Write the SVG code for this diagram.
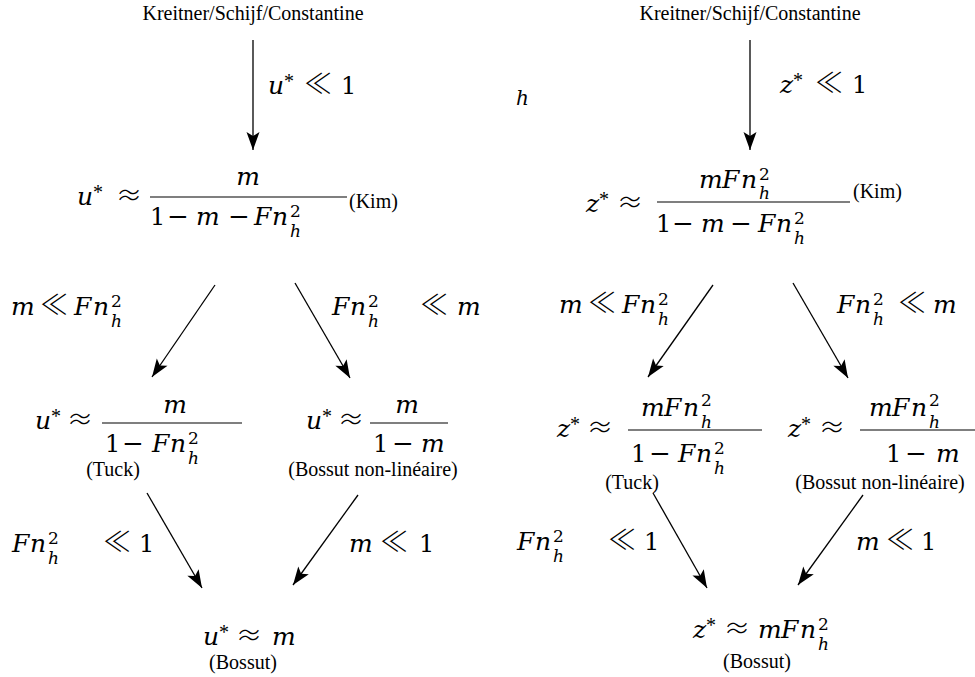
<svg xmlns="http://www.w3.org/2000/svg" width="975" height="677" viewBox="0 0 975 677">
<style>
.t{font-family:"Liberation Serif","Times New Roman",serif;font-size:20px;fill:#000}
.v{font-family:"DejaVu Serif",serif;font-style:italic;font-size:25px;fill:#000}
.d{font-family:"DejaVu Serif",serif;font-size:24px;fill:#000}
.o{font-family:"DejaVu Serif",serif;font-size:26px;fill:#000}
.ap{font-family:"Noto Sans CJK JP","DejaVu Serif",sans-serif;font-weight:300;font-size:26px;fill:#000}
.ll{font-family:"Noto Sans CJK JP","DejaVu Serif",sans-serif;font-weight:300;font-size:28px;fill:#000}
.st{font-family:"Liberation Serif","Times New Roman",serif;font-size:20px;fill:#000}
.s{font-size:17px}
.bar{stroke:#000;stroke-width:1.2}
.edge{stroke:#000;stroke-width:1.3;fill:none;marker-end:url(#ah)}
</style>
<defs>
<marker id="ah" markerUnits="userSpaceOnUse" viewBox="-19 -7 20 14" refX="0" refY="0" markerWidth="20" markerHeight="14" orient="auto">
<path d="M0,0 L-18,-6.5 L-14,0 L-18,6.5 Z" fill="#000"/>
</marker>
</defs>
<rect width="975" height="677" fill="#fff"/>

<g id="src-u"><text class="t" x="253" y="20" text-anchor="middle">Kreitner/Schijf/Constantine</text></g>
<g id="src-z"><text class="t" x="750" y="20" text-anchor="middle">Kreitner/Schijf/Constantine</text></g>
<g id="h-label"><text class="v" style="font-size:20px" x="516" y="105">h</text></g>

<g id="kim-u">
<text class="v" x="77" y="205">u</text><text class="st" x="93" y="199">*</text><text class="ap" x="116" y="205">≈</text>
<text class="v" x="248" y="185" text-anchor="middle">m</text>
<line class="bar" x1="150" y1="197" x2="347" y2="197"/>
<text class="d" x="150" y="225">1</text><text class="o" x="167" y="225">−</text><text class="v" x="196" y="225">m</text><text class="o" x="228" y="225">−</text><text class="v" x="254" y="225">F</text><text class="v" x="272" y="225">n</text><text class="d s" x="290" y="217">2</text><text class="v s" x="290" y="237">h</text>
<text class="t" x="349" y="208">(Kim)</text>
</g>

<g id="kim-z">
<text class="v" x="586" y="212">z</text><text class="st" x="599" y="206">*</text><text class="ap" x="617" y="212">≈</text>
<text class="v" x="699" y="188">m</text><text class="v" x="722" y="188">F</text><text class="v" x="741" y="188">n</text><text class="d s" x="759" y="180">2</text><text class="v s" x="759" y="199">h</text>
<line class="bar" x1="657" y1="202" x2="850" y2="202"/>
<text class="d" x="656" y="232">1</text><text class="o" x="672" y="232">−</text><text class="v" x="701" y="232">m</text><text class="o" x="730" y="232">−</text><text class="v" x="758" y="232">F</text><text class="v" x="776" y="232">n</text><text class="d s" x="794" y="224">2</text><text class="v s" x="794" y="244">h</text>
<text class="t" x="853" y="198">(Kim)</text>
</g>

<g id="tuck-u">
<text class="v" x="35" y="429">u</text><text class="st" x="51" y="423">*</text><text class="ap" x="67" y="429">≈</text>
<text class="v" x="175" y="413" text-anchor="middle">m</text>
<line class="bar" x1="102" y1="423" x2="242" y2="423"/>
<text class="d" x="105" y="452">1</text><text class="o" x="122" y="452">−</text><text class="v" x="152" y="452">F</text><text class="v" x="170" y="452">n</text><text class="d s" x="188" y="444">2</text><text class="v s" x="188" y="464">h</text>
<text class="t" x="113" y="476" text-anchor="middle">(Tuck)</text>
</g>

<g id="bossut-nl-u">
<text class="v" x="306" y="429">u</text><text class="st" x="322" y="423">*</text><text class="ap" x="338" y="429">≈</text>
<text class="v" x="407" y="413" text-anchor="middle">m</text>
<line class="bar" x1="370" y1="423" x2="448" y2="423"/>
<text class="d" x="373" y="452">1</text><text class="o" x="392" y="452">−</text><text class="v" x="421" y="452">m</text>
<text class="t" x="373" y="476" text-anchor="middle">(Bossut non-linéaire)</text>
</g>

<g id="tuck-z">
<text class="v" x="557" y="437">z</text><text class="st" x="570" y="431">*</text><text class="ap" x="587" y="437">≈</text>
<text class="v" x="641" y="416">m</text><text class="v" x="664" y="416">F</text><text class="v" x="683" y="416">n</text><text class="d s" x="701" y="406">2</text><text class="v s" x="701" y="428">h</text>
<line class="bar" x1="628" y1="430" x2="762" y2="430"/>
<text class="d" x="631" y="462">1</text><text class="o" x="649" y="462">−</text><text class="v" x="678" y="462">F</text><text class="v" x="696" y="462">n</text><text class="d s" x="714" y="454">2</text><text class="v s" x="714" y="474">h</text>
<text class="t" x="632" y="489" text-anchor="middle">(Tuck)</text>
</g>

<g id="bossut-nl-z">
<text class="v" x="788" y="437">z</text><text class="st" x="801" y="431">*</text><text class="ap" x="819" y="437">≈</text>
<text class="v" x="869" y="416">m</text><text class="v" x="892" y="416">F</text><text class="v" x="911" y="416">n</text><text class="d s" x="929" y="406">2</text><text class="v s" x="929" y="428">h</text>
<line class="bar" x1="860" y1="430" x2="975" y2="430"/>
<text class="d" x="886" y="462">1</text><text class="o" x="905" y="462">−</text><text class="v" x="936" y="462">m</text>
<text class="t" x="880" y="489" text-anchor="middle">(Bossut non-linéaire)</text>
</g>

<g id="bossut-u">
<text class="v" x="203" y="645">u</text><text class="st" x="219" y="639">*</text><text class="ap" x="236" y="645">≈</text><text class="v" x="272" y="645">m</text>
<text class="t" x="243" y="669" text-anchor="middle">(Bossut)</text>
</g>

<g id="bossut-z">
<text class="v" x="693" y="638">z</text><text class="st" x="706" y="632">*</text><text class="ap" x="724" y="638">≈</text><text class="v" x="758" y="638">m</text><text class="v" x="781" y="638">F</text><text class="v" x="800" y="638">n</text><text class="d s" x="818" y="630">2</text><text class="v s" x="818" y="650">h</text>
<text class="t" x="757" y="668" text-anchor="middle">(Bossut)</text>
</g>

<g id="connectors">
<line class="edge" x1="253" y1="40" x2="253" y2="150"/>
<line class="edge" x1="750" y1="40" x2="750" y2="150"/>
<line class="edge" x1="215" y1="285" x2="152" y2="377"/>
<line class="edge" x1="295" y1="283" x2="350" y2="378"/>
<line class="edge" x1="713" y1="285" x2="648" y2="377"/>
<line class="edge" x1="793" y1="283" x2="848" y2="378"/>
<line class="edge" x1="147" y1="493" x2="202" y2="588"/>
<line class="edge" x1="358" y1="495" x2="293" y2="585"/>
<line class="edge" x1="653" y1="493" x2="707" y2="588"/>
<line class="edge" x1="863" y1="495" x2="798" y2="585"/>
<g id="edge-labels">
<text class="v" x="268" y="94">u</text><text class="st" x="284" y="88">*</text><text class="ll" x="304" y="94">≪</text><text class="d" x="341" y="94">1</text>
<text class="v" x="780" y="93">z</text><text class="st" x="793" y="87">*</text><text class="ll" x="815" y="93">≪</text><text class="d" x="852" y="93">1</text>
<text class="v" x="11" y="315">m</text><text class="ll" x="40" y="315">≪</text><text class="v" x="74" y="315">F</text><text class="v" x="93" y="315">n</text><text class="d s" x="111" y="307">2</text><text class="v s" x="111" y="327">h</text>
<text class="v" x="332" y="315">F</text><text class="v" x="350" y="315">n</text><text class="d s" x="368" y="307">2</text><text class="v s" x="368" y="327">h</text><text class="ll" x="420" y="315">≪</text><text class="v" x="457" y="315">m</text>
<text class="v" x="559" y="313">m</text><text class="ll" x="588" y="313">≪</text><text class="v" x="622" y="313">F</text><text class="v" x="640" y="313">n</text><text class="d s" x="658" y="305">2</text><text class="v s" x="658" y="325">h</text>
<text class="v" x="837" y="313">F</text><text class="v" x="855" y="313">n</text><text class="d s" x="873" y="305">2</text><text class="v s" x="873" y="325">h</text><text class="ll" x="898" y="313">≪</text><text class="v" x="933" y="313">m</text>
<text class="v" x="12" y="552">F</text><text class="v" x="30" y="552">n</text><text class="d s" x="48" y="544">2</text><text class="v s" x="48" y="564">h</text><text class="ll" x="103" y="552">≪</text><text class="d" x="139" y="552">1</text>
<text class="v" x="349" y="552">m</text><text class="ll" x="380" y="552">≪</text><text class="d" x="419" y="552">1</text>
<text class="v" x="517" y="550">F</text><text class="v" x="535" y="550">n</text><text class="d s" x="553" y="542">2</text><text class="v s" x="553" y="562">h</text><text class="ll" x="608" y="550">≪</text><text class="d" x="644" y="550">1</text>
<text class="v" x="856" y="550">m</text><text class="ll" x="886" y="550">≪</text><text class="d" x="921" y="550">1</text>
</g>
</g>
</svg>
